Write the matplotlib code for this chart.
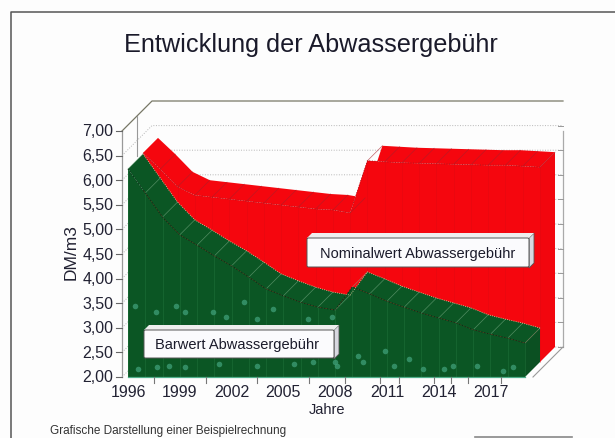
import numpy as np
import matplotlib
matplotlib.use("Agg")
import matplotlib.pyplot as plt
from matplotlib.patches import Polygon, FancyBboxPatch

plt.rcParams['font.family'] = ['Liberation Sans', 'DejaVu Sans']

years = list(range(1996, 2020))
barwert = [6.23, 5.74, 5.25, 4.89, 4.68, 4.46, 4.26, 4.03, 3.79, 3.65, 3.52, 3.42,
           3.36, 3.83, 3.69, 3.54, 3.42, 3.30, 3.20, 3.10, 2.96, 2.87, 2.79, 2.69]
nominal = [6.25, 5.92, 5.56, 5.39, 5.35, 5.31, 5.27, 5.23, 5.19, 5.15, 5.11, 5.09,
           5.03, 6.09, 6.07, 6.05, 6.04, 6.03, 6.02, 6.01, 6.00, 6.00, 5.98, 5.96]
y_ticks = [2.0, 2.5, 3.0, 3.5, 4.0, 4.5, 5.0, 5.5, 6.0, 6.5, 7.0]
y_labels = ['2,00', '2,50', '3,00', '3,50', '4,00', '4,50', '5,00', '5,50', '6,00', '6,50', '7,00']
x_labels = [1996, 1999, 2002, 2005, 2008, 2011, 2014, 2017]
x_marks = [1997.5, 2000.5, 2003.5, 2006.5, 2008.6, 2010.6, 2011.7, 2013.7, 2014.7, 2015.7, 2017.6]
# light flecks in the print of the green face
fleck_x = [1996.4, 1997.6, 1998.8, 1999.3, 2000.9, 2001.7, 2002.7, 2003.5, 2004.4, 2006.4, 2007.8,
           1996.6, 1997.7, 1998.4, 1999.3, 2001.3, 2003.5, 2005.6, 2006.7, 2008.1, 2008.0, 2009.3,
           2009.6, 2010.9, 2011.4, 2012.3, 2013.1, 2014.3, 2014.8, 2016.2, 2017.7, 2018.3]
fleck_y = [3.44, 3.32, 3.44, 3.32, 3.32, 3.22, 3.52, 3.18, 3.38, 3.18, 3.22,
           2.16, 2.20, 2.22, 2.20, 2.26, 2.22, 2.26, 2.30, 2.22, 2.30, 2.43,
           2.30, 2.53, 2.22, 2.37, 2.16, 2.16, 2.22, 2.22, 2.12, 2.20]

W, H = 615, 439
fig = plt.figure(figsize=(W / 100, H / 100), dpi=100, facecolor='#fdfdfd')
bg = fig.add_axes([0, 0, 1, 1])
bg.set_xlim(0, W)
bg.set_ylim(H, 0)
bg.axis('off')

# picture frame around the slide, open to the right and below
bg.plot([10.5, 10.5, W], [H, 12.5, 12.5], color='#555555', lw=1.1)
bg.plot([475, 572], [438.5, 438.5], color='#888888', lw=1.2)

# front plane of the chart runs from 1996 to 2019 and from 2,00 to 7,00
ax = fig.add_axes([128 / W, 1 - 378 / H, 397 / W, 246 / H])
ax.set_xlim(1996, 2019)
ax.set_ylim(2, 7)
ax.axis('off')

# depth of one series, in data units
DX = 15 / 17.26
DY = 15 / 49.2
AX0 = 1996 - 6 / 17.26
AX1 = 2019 + 8 / 17.26
NAVY = '#222233'


def shift(x, y, d):
    return np.asarray(x, dtype=float) + d * DX, np.asarray(y, dtype=float) + d * DY


def line(x, y, **kw):
    kw.setdefault('clip_on', False)
    kw.setdefault('zorder', 3)
    ax.plot(x, y, **kw)


# walls and floor stay behind the areas
bx, by = shift([AX0, AX1], [2, 2], 2)
line([AX0, bx[0], bx[1]], [7, 7 + 2 * DY, 7 + 2 * DY], color='#777766', lw=0.9, zorder=0)
line([bx[1], bx[1]], [7 + 2 * DY - 0.6, 2 + 2 * DY], color='#aaaaaa', lw=0.9, zorder=0)
line([AX0, AX0], [2, 7], color='#999999', lw=0.9, zorder=0)
line([AX1, bx[1]], [2, by[1]], color='#999999', lw=0.8, zorder=0)
line([AX0 + DX, AX0 + DX], [7 + DY, 6.5], color='#999999', lw=0.8, zorder=0)
for v in y_ticks[:-1]:
    line([AX0, bx[0], bx[1]], [v, v + 2 * DY, v + 2 * DY], color='#b5b5b5', lw=0.7, ls=':', zorder=0)
for v, lab in zip(y_ticks, y_labels):
    line([AX0 - 0.35, AX0], [v, v], color='#666666', lw=0.8)
    ax.text(AX0 - 0.5, v, lab, ha='right', va='center', fontsize=11.5, color=NAVY)
    if v < 7:
        line([bx[1], bx[1] - 0.3], [v + 2 * DY, v + 2 * DY], color='#999999', lw=0.7)

yr = np.array(years, dtype=float)
low = np.full(len(yr), 2.0)


def area(values, d0, d1, front, top, side):
    v = np.array(values)
    x0, y0 = shift(yr, v, d0)
    x1, y1 = shift(yr, v, d1)
    # upper surface first, then front face and end face
    ax.add_patch(Polygon(np.r_[np.c_[x0, y0], np.c_[x1, y1][::-1]], color=top, lw=0, clip_on=False))
    bx0, by0 = shift(yr, low, d0)
    ax.add_patch(Polygon(np.r_[np.c_[x0, y0], np.c_[bx0, by0][::-1]], color=front, lw=0, clip_on=False))
    ex, ey = shift([yr[-1], yr[-1]], [low[-1], low[-1]], d1)
    ax.add_patch(Polygon([(x0[-1], y0[-1]), (x1[-1], y1[-1]), (ex[0], ey[0]), (bx0[-1], by0[-1])],
                         color=side, lw=0, clip_on=False))
    return x0, y0, x1, y1, bx0, by0


# red series stands behind the green one
x0, y0, x1, y1, bx0, by0 = area(nominal, 1, 2, '#f5060e', '#f5060e', '#f2060e')
for i in range(1, len(yr)):
    line([x0[i], x1[i]], [y0[i], y1[i]], color='#a8202a', lw=0.5, alpha=0.7, zorder=1.1)
    line([x0[i], bx0[i]], [y0[i], by0[i]], color='#d80a12', lw=0.4, alpha=0.6, zorder=1.1)
line(x0, y0, color='#a81820', lw=0.7, ls=':', zorder=1.1)

x0, y0, x1, y1, bx0, by0 = area(barwert, 0, 1, '#0b5624', '#0b5624', '#0b5022')
for p in ax.patches[-3:]:
    p.set_zorder(1.5)
for i in range(len(yr)):
    line([x0[i], bx0[i]], [y0[i], by0[i]], color='#2f8a4c', lw=0.4, alpha=0.5, zorder=1.6)
    line([x0[i], x1[i]], [y0[i], y1[i]], color='#7fb08a', lw=0.5, alpha=0.6, zorder=1.6)
line(x0, y0, color='#0a2e18', lw=0.8, ls=':', zorder=1.6)
line(x1, y1, color='#f4d0a0', lw=0.6, ls=':', zorder=1.6)
line([yr[0], yr[-1]], [2, 2], color='#4fae8a', lw=0.9, zorder=1.7)
ax.scatter(fleck_x, fleck_y, s=16, color='#3f9f78', alpha=0.75, lw=0, zorder=1.7, clip_on=False)

# x axis
for v in x_marks:
    line([v, v], [2, 1.87], color='#777777', lw=0.8)
for v in x_labels:
    ax.text(v, 1.86, str(v), ha='center', va='top', fontsize=11.5, color=NAVY)

bg.text(71, 252, 'DM/m3', rotation=90, ha='center', va='center', fontsize=12.5, color=NAVY, zorder=5)
bg.text(311, 52, 'Entwicklung der Abwassergebühr', ha='center', va='baseline', fontsize=18.2, color='#1a1a2a')
bg.text(327, 410, 'Jahre', ha='center', va='center', fontsize=10.5, color=NAVY, zorder=5)
bg.text(50, 431.5, 'Grafische Darstellung einer Beispielrechnung', ha='left', va='center', fontsize=8.5, color='#333333')


# white captions with a slight 3D edge
def caption(x0, y0, x1, y1, text, tx):
    ov = fig.add_axes([0, 0, 1, 1], facecolor='none')
    ov.set_xlim(0, W)
    ov.set_ylim(H, 0)
    ov.axis('off')
    ov.add_patch(Polygon([(x1 - 5, y0), (x1, y0 - 5), (x1, y1 - 5), (x1 - 5, y1)], fc='#d8d8e0', ec='#555555', lw=0.6))
    ov.add_patch(Polygon([(x0, y0), (x0 + 5, y0 - 5), (x1, y0 - 5), (x1 - 5, y0)], color='#eeeeee', lw=0))
    ov.add_patch(FancyBboxPatch((x0, y0), x1 - x0 - 5, y1 - y0 - 1, boxstyle='round,pad=0,rounding_size=1.5',
                                fc='#fbfbfd', ec='#555555', lw=0.7))
    ov.text(tx, (y0 + y1) / 2, text, ha='left', va='center', fontsize=10.5, color='#1a1a2a')


caption(144, 331, 339, 360, 'Barwert Abwassergebühr', 155)
caption(307, 239, 534, 269, 'Nominalwert Abwassergebühr', 320)

fig.savefig('out.png', dpi=100)
